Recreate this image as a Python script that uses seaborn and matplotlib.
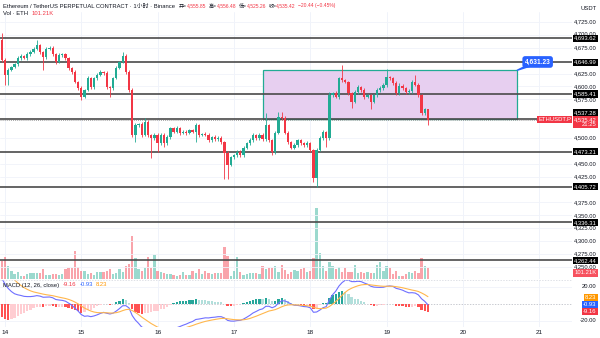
import numpy as np
import pandas as pd
import matplotlib
matplotlib.use("Agg")
import matplotlib.pyplot as plt
import seaborn as sns
from matplotlib.transforms import blended_transform_factory
from matplotlib.patches import Rectangle, Polygon

# ---------------- data ----------------
first_open = 4690.0
closes = [
    4651, 4622, 4632, 4638, 4643, 4655, 4659, 4655, 4663, 4667,
    4673, 4680, 4667, 4657, 4673, 4675, 4663, 4647, 4661, 4662,
    4655, 4636, 4628, 4609, 4597, 4580, 4593, 4616, 4599, 4616,
    4622, 4628, 4626, 4599, 4597, 4616, 4636, 4647, 4659, 4628,
    4593, 4506, 4525, 4527, 4506, 4531, 4506, 4500, 4506, 4490,
    4506, 4490, 4502, 4519, 4512, 4519, 4510, 4512, 4510, 4515,
    4512, 4525, 4506, 4508, 4506, 4496, 4502, 4498, 4500, 4492,
    4471, 4448, 4463, 4467, 4473, 4467, 4481, 4490, 4496, 4506,
    4500, 4506, 4498, 4525, 4496, 4473, 4510, 4541, 4539, 4510,
    4492, 4481, 4486, 4496, 4490, 4486, 4490, 4477, 4422, 4477,
    4500, 4512, 4500, 4583, 4587, 4580, 4616, 4612, 4609, 4587,
    4570, 4589, 4599, 4593, 4580, 4583, 4570, 4583, 4593, 4597,
    4603, 4618, 4616, 4607, 4587, 4601, 4597, 4589, 4591, 4609,
    4603, 4583, 4548, 4555.85, 4535.42,
]
upper_wick = [
    14, 4, 3, 2, 3, 4, 3, 2, 3, 4,
    3, 10, 3, 2, 4, 3, 3, 2, 4, 3,
    2, 3, 2, 3, 2, 4, 3, 4, 3, 2,
    4, 3, 2, 3, 2, 3, 4, 3, 8, 3,
    3, 4, 4, 3, 4, 8, 3, 2, 4, 3,
    3, 4, 3, 2, 3, 4, 2, 3, 4, 3,
    3, 4, 3, 2, 4, 3, 2, 3, 4, 3,
    3, 4, 3, 2, 4, 3, 3, 2, 4, 3,
    2, 4, 3, 23, 3, 2, 4, 9, 9, 3,
    3, 2, 4, 3, 2, 3, 4, 3, 2, 3,
    3, 4, 2, 7, 3, 4, 3, 26, 3, 2,
    3, 4, 3, 2, 4, 3, 2, 3, 4, 3,
    3, 16, 3, 2, 4, 5, 3, 2, 4, 3,
    14, 3, 2, 3, 0.63,
]
lower_wick = [
    3, 19, 19, 3, 2, 4, 3, 2, 3, 4,
    3, 2, 4, 25, 3, 2, 4, 3, 2, 3,
    3, 4, 3, 2, 4, 6, 3, 2, 4, 3,
    3, 2, 4, 3, 17, 3, 2, 3, 2, 4,
    4, 4, 14, 3, 4, 3, 4, 39, 3, 17,
    3, 8, 3, 4, 3, 2, 4, 3, 4, 3,
    3, 20, 4, 3, 3, 4, 3, 4, 3, 4,
    51, 28, 3, 4, 3, 3, 4, 3, 4, 3,
    4, 3, 3, 4, 3, 6, 4, 3, 4, 3,
    4, 3, 3, 4, 3, 4, 3, 4, 7, 17,
    3, 4, 17, 3, 4, 3, 4, 3, 3, 4,
    12, 3, 4, 3, 4, 3, 14, 3, 4, 3,
    3, 4, 3, 4, 3, 4, 3, 4, 3, 4,
    3, 4, 3, 4, 10.16,
]
volumes_k = [
    166, 202, 120, 74, 46, 64, 28, 28, 46, 55,
    55, 55, 55, 92, 37, 37, 46, 46, 37, 46,
    92, 101, 101, 258, 110, 74, 74, 46, 55, 37,
    64, 64, 64, 74, 92, 46, 55, 92, 64, 120,
    138, 396, 193, 92, 74, 101, 202, 101, 221, 74,
    64, 55, 46, 46, 37, 28, 37, 64, 37, 37,
    74, 55, 92, 46, 74, 55, 46, 55, 55, 55,
    294, 212, 28, 74, 202, 64, 37, 46, 55, 55,
    55, 46, 120, 92, 101, 101, 120, 64, 129, 83,
    46, 64, 83, 74, 92, 101, 64, 74, 193, 653,
    239, 120, 74, 156, 120, 92, 110, 64, 101, 64,
    64, 129, 55, 64, 55, 64, 55, 55, 129, 156,
    74, 120, 101, 46, 74, 28, 28, 46, 64, 55,
    74, 55, 193, 120, 101.21,
]
levels = [4693.62, 4646.99, 4585.41, 4537.28, 4473.21, 4405.72, 4336.31, 4262.44]
level_labels = ["4,693.62", "4,646.99", "4,585.41", "4,537.28",
                "4,473.21", "4,405.72", "4,336.31", "4,262.44"]
zone_low, zone_high = 4537.28, 4631.23
zone_label = "4,631.23"
price_ticks = [4725, 4700, 4675, 4625, 4600, 4575, 4500, 4450, 4425,
               4375, 4350, 4325, 4300, 4275, 4250]
day_ticks_h = [0, 24, 48, 72, 96, 120, 144, 168]
day_labels = ["14", "15", "16", "17", "18", "19", "20", "21"]
last_close = 4535.42
macd_seed_fast, macd_seed_slow, macd_seed_signal = 4688.0, 4652.0, 50.0
macd_last = (-9.16, -0.93, 8.23)   # histogram, MACD, signal (as shown)

# ---------------- derived ----------------
n = len(closes)
hours = np.arange(n) - 1            # hours since the 14th, 00:00
opens = [first_open] + closes[:-1]
highs = [max(o, c) + u for o, c, u in zip(opens, closes, upper_wick)]
lows = [min(o, c) - l for o, c, l in zip(opens, closes, lower_wick)]
up = [c >= o for o, c in zip(opens, closes)]

ef, es, sg = macd_seed_fast, macd_seed_slow, macd_seed_signal
macd, sig = [], []
for c in closes:
    ef += 2 / 13 * (c - ef)
    es += 2 / 27 * (c - es)
    m = ef - es
    sg += 2 / 10 * (m - sg)
    macd.append(m)
    sig.append(sg)
hist = np.array(macd) - np.array(sig)

GREEN, RED = "#22ab94", "#f23645"
TXT = "#131722"

sns.set_theme(style="white")
plt.rcParams["font.family"] = ["Liberation Sans", "Noto Sans CJK SC", "DejaVu Sans"]

W, H = 600, 338
fig = plt.figure(figsize=(6, 3.38), dpi=100)
fig.patch.set_facecolor("white")

def rect(top, bottom, right=572):
    return [0, 1 - bottom / H, right / W, (bottom - top) / H]

def fy(ypx):
    return 1 - ypx / H

xlim = (-5 / 3.18, 567 / 3.18)
ylim_price = (4725 - (279 - 22) * 1.9395, 4725 + (22 - 12) * 1.9395)

# volume (background) axes
axv = fig.add_axes(rect(12, 279), zorder=0)
axv.set_xlim(*xlim)
axv.set_ylim(0, 267 * 9.2)
for h in day_ticks_h:
    axv.axvline(h, color="#f0f3fa", lw=0.7, zorder=0)
axv.bar(hours, volumes_k, width=0.72,
        color=[GREEN if u else RED for u in up], alpha=0.45, linewidth=0)
axv.axis("off")

# price axes
ax = fig.add_axes(rect(12, 279), zorder=1)
ax.patch.set_alpha(0)
ax.set_xlim(*xlim)
ax.set_ylim(*ylim_price)
for t in price_ticks:
    ax.axhline(t, color="#f0f3fa", lw=0.6, zorder=0)

ax.add_patch(Rectangle((81.1, zone_low), 161 - 81.1, zone_high - zone_low,
                       facecolor="#e7cff0", edgecolor="#22ab94", lw=0.9, zorder=1))

for lv in levels:
    ax.axhline(lv, color="#4a4a4a", lw=1.2, zorder=2)
ax.axhline(last_close, color="#8a8a8a", lw=0.5, ls=(0, (1.5, 1.5)), zorder=2)

ax.vlines(hours, lows, highs, colors=[GREEN if u else RED for u in up], lw=0.6, zorder=3)
ax.bar(hours, [max(abs(c - o), 0.8) for o, c in zip(opens, closes)],
       bottom=[min(o, c) for o, c in zip(opens, closes)], width=0.72,
       color=[GREEN if u else RED for u in up], linewidth=0, zorder=4)
ax.axis("off")

# blue zone label with pointer
ax.add_patch(Polygon([[161, zone_high], [164.5, 4642], [166.5, 4642]],
                     closed=True, color="#2962ff", zorder=5, clip_on=False))
ax.text(167.5, 4647.5, zone_label, ha="center", va="center", fontsize=4.8,
        color="white", fontweight="bold", zorder=6,
        bbox=dict(boxstyle="round,pad=0.35,rounding_size=0.4", fc="#2962ff", ec="none"))

trR = blended_transform_factory(fig.transFigure, ax.transData)
xr = 596.5 / W
for t in price_ticks:
    yv = t + 3.0 if t == 4700 else t
    ax.text(xr, yv, f"{t:,.2f}", transform=trR, ha="right", va="center",
            fontsize=4.2, color=TXT, clip_on=False, zorder=6)
for lv, lab in zip(levels, level_labels):
    if lab == "4,537.28":
        fig.text(xr, fy(113), lab, ha="right", va="center", fontsize=4.2,
                 color="white", zorder=7,
                 bbox=dict(boxstyle="square,pad=0.18", fc="black", ec="none"))
    else:
        ax.text(xr, lv, lab, transform=trR, ha="right", va="center", fontsize=4.2,
                color="white", clip_on=False, zorder=7,
                bbox=dict(boxstyle="square,pad=0.18", fc="black", ec="none"))
fig.text(xr, fy(116.8), "4,535.42\n21:25", ha="right", va="top", fontsize=4.2,
         color="white", zorder=8, linespacing=1.15,
         bbox=dict(boxstyle="square,pad=0.18", fc=RED, ec="none"))
fig.text(571 / W, fy(119.5), "ETHUSDT.P", ha="right", va="center", fontsize=4.2,
         color="white", zorder=8,
         bbox=dict(boxstyle="square,pad=0.18", fc=RED, ec="none"))
fig.text(xr, fy(273), "101.21K", ha="right", va="center", fontsize=4.2,
         color="white", zorder=9,
         bbox=dict(boxstyle="square,pad=0.18", fc="#f7525f", ec="none"))
fig.text(xr, fy(8), "USDT", ha="right", va="center", fontsize=4.2, color=TXT)

# MACD pane
ppu = 0.85
axm = fig.add_axes(rect(280, 327), zorder=1)
axm.set_xlim(*xlim)
axm.set_ylim(-(327 - 304) / ppu, (304 - 280) / ppu)
for h in day_ticks_h:
    axm.axvline(h, color="#f0f3fa", lw=0.7, zorder=0)
for t in (20, -20):
    axm.axhline(t, color="#f0f3fa", lw=0.6, zorder=0)
axm.axhline(0, color="#b2b5be", lw=0.5, ls=(0, (2, 2)), zorder=1)
hcols = []
prev = 0.0
for hv in hist:
    if hv >= 0:
        hcols.append("#26a69a" if hv > prev else "#b2dfdb")
    else:
        hcols.append("#ff5252" if hv < prev else "#ffcdd2")
    prev = hv
axm.bar(hours, hist, width=0.72, color=hcols, linewidth=0, zorder=2)
mdf = pd.DataFrame({"hour": hours, "macd": macd, "signal": sig})
sns.lineplot(data=mdf, x="hour", y="macd", ax=axm, color="#6f6fff", lw=0.8, zorder=3)
sns.lineplot(data=mdf, x="hour", y="signal", ax=axm, color="#ffb74d", lw=0.8, zorder=3)
axm.set_xlabel("")
axm.set_ylabel("")
axm.set_yticks([])
axm.set_xticks(day_ticks_h)
axm.set_xticklabels(day_labels)
axm.tick_params(axis="x", length=0, labelsize=4.6, pad=2.5, colors=TXT)
for s in axm.spines.values():
    s.set_visible(False)

trM = blended_transform_factory(fig.transFigure, axm.transData)
for t in (20, -20):
    axm.text(xr, t, f"{t:.2f}", transform=trM, ha="right", va="center",
             fontsize=4.2, color=TXT, clip_on=False)
for (v, col), ypx in zip(((macd_last[2], "#ff9800"), (macd_last[1], "#2962ff"),
                          (macd_last[0], RED)), (297.5, 304.5, 311.5)):
    fig.text(xr, fy(ypx), f"{v:.2f}", ha="right", va="center",
             fontsize=4.2, color="white",
             bbox=dict(boxstyle="square,pad=0.18", fc=col, ec="none"))

# pane separator
fig.add_artist(plt.Line2D([0, 572 / W], [fy(279.5)] * 2, color="#d1d4dc",
                          lw=0.5, ls=(0, (2, 2))))

# header texts placed one after another
renderer = fig.canvas.get_renderer()

def seq(x0, ypx, parts):
    x = x0
    for s, col, gap, fs in parts:
        t = fig.text(x / W, fy(ypx), s, fontsize=fs, color=col, va="center")
        x += t.get_window_extent(renderer).width + gap

seq(3, 6, [("Ethereum / TetherUS PERPETUAL CONTRACT · 1小时 · Binance", TXT, 4, 4.2),
           ("开=", TXT, 0, 3.6), ("4,555.85", RED, 2.5, 3.6),
           ("高=", TXT, 0, 3.6), ("4,556.48", RED, 2.5, 3.6),
           ("低=", TXT, 0, 3.6), ("4,525.26", RED, 2.5, 3.6),
           ("收=", TXT, 0, 3.6), ("4,535.42", RED, 2.5, 3.6),
           ("−20.44 (−0.45%)", RED, 0, 3.6)])
seq(3, 13.5, [("Vol · ETH", TXT, 4, 4.2), ("101.21K", RED, 0, 4.2)])
seq(3, 285, [("MACD (12, 26, close)", TXT, 4, 4.2),
             (f"{macd_last[0]:.2f}", RED, 3, 4.2),
             (f"{macd_last[1]:.2f}", "#2962ff", 3, 4.2),
             (f"{macd_last[2]:.2f}", "#ff9800", 0, 4.2)])

fig.savefig("out.png", dpi=100, facecolor="white")
